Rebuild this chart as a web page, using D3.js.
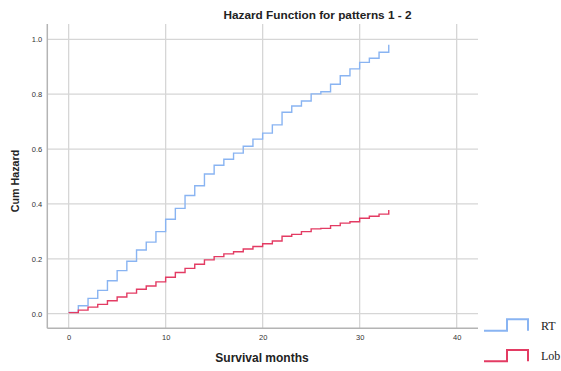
<!DOCTYPE html>
<html>
<head>
<meta charset="utf-8">
<script src="https://cdn.jsdelivr.net/npm/d3@7"></script>
<style>
  body { margin: 0; background: #fff; }
  svg { display: block; }
</style>
</head>
<body>
<div id="chart"></div>
<script>
// Data: cumulative hazard after each month
const months = d3.range(0, 34);
const rtHazard = [0.005, 0.029, 0.056, 0.085, 0.120, 0.157, 0.191, 0.232, 0.261, 0.299,
  0.344, 0.384, 0.431, 0.466, 0.509, 0.541, 0.563, 0.585, 0.610, 0.636,
  0.658, 0.688, 0.734, 0.757, 0.775, 0.801, 0.809, 0.836, 0.867, 0.892,
  0.916, 0.931, 0.953, 0.980];
const lobHazard = [0.004, 0.013, 0.024, 0.034, 0.047, 0.061, 0.075, 0.089, 0.101, 0.116,
  0.133, 0.150, 0.165, 0.180, 0.196, 0.208, 0.218, 0.226, 0.236, 0.245,
  0.255, 0.265, 0.282, 0.289, 0.299, 0.309, 0.311, 0.321, 0.330, 0.335,
  0.348, 0.355, 0.363, 0.378];
const xTicks = [0, 10, 20, 30, 40];
const yTicks = [0, 0.2, 0.4, 0.6, 0.8, 1.0];
const seriesNames = ["RT", "Lob"];
const seriesColors = ["#89b4f2", "#e33b63"];

const fullWidth = 561, fullHeight = 371;
const plot = { left: 47.3, right: 478, top: 24, bottom: 328.3 };

const svg = d3.select("#chart").append("svg")
  .attr("width", fullWidth)
  .attr("height", fullHeight);

const x = d3.scaleLinear().domain([-2.2, 42.2]).range([plot.left, plot.right]);
const y = d3.scaleLinear().domain([-0.0532, 1.0557]).range([plot.bottom, plot.top]);

// Grid
svg.append("g").selectAll("line")
  .data(xTicks).enter().append("line")
  .attr("x1", d => x(d)).attr("x2", d => x(d))
  .attr("y1", plot.top).attr("y2", plot.bottom)
  .attr("stroke", "#d6d6d6").attr("stroke-width", 1.3);

svg.append("g").selectAll("line")
  .data(yTicks).enter().append("line")
  .attr("x1", plot.left).attr("x2", plot.right)
  .attr("y1", d => y(d)).attr("y2", d => y(d))
  .attr("stroke", "#d6d6d6").attr("stroke-width", 1.3);

// Axes (no tick marks)
const xAxis = svg.append("g")
  .attr("transform", `translate(0,${plot.bottom})`)
  .call(d3.axisBottom(x).tickValues(xTicks).tickSize(0).tickPadding(6).tickFormat(d3.format("d")));
const yAxis = svg.append("g")
  .attr("transform", `translate(${plot.left},0)`)
  .call(d3.axisLeft(y).tickValues(yTicks).tickSize(0).tickPadding(5).tickFormat(d3.format(".1f")));

[xAxis, yAxis].forEach(a => {
  a.select(".domain").attr("stroke", "#b4b4b4").attr("stroke-width", 1.5);
  a.selectAll("text")
    .style("font-family", "'Liberation Sans', Arial, sans-serif")
    .style("font-size", "7.5px")
    .attr("fill", "#333");
});
yAxis.select(".domain").attr("d", `M0,${plot.top}V${plot.bottom}`);
xAxis.select(".domain").attr("d", `M${plot.left},0H${plot.right}`);

// Step lines
const line = d3.line()
  .x((d, i) => x(months[i]))
  .y(d => y(d))
  .curve(d3.curveStepAfter);

[rtHazard, lobHazard].forEach((vals, k) => {
  svg.append("path")
    .datum(vals)
    .attr("d", line)
    .attr("fill", "none")
    .attr("stroke", seriesColors[k])
    .attr("stroke-width", 1.4);
});

// Title
svg.append("text")
  .attr("x", 317.5).attr("y", 19)
  .attr("text-anchor", "middle")
  .style("font-family", "'Liberation Sans', Arial, sans-serif")
  .style("font-weight", "bold")
  .style("font-size", "11.8px")
  .attr("fill", "#222")
  .text("Hazard Function for patterns 1 - 2");

// Axis labels
svg.append("text")
  .attr("x", 262).attr("y", 362)
  .attr("text-anchor", "middle")
  .style("font-family", "'Liberation Sans', Arial, sans-serif")
  .style("font-weight", "bold")
  .style("font-size", "12px")
  .attr("fill", "#222")
  .text("Survival months");

svg.append("text")
  .attr("transform", "translate(18.5,181) rotate(-90)")
  .attr("text-anchor", "middle")
  .style("font-family", "'Liberation Sans', Arial, sans-serif")
  .style("font-weight", "bold")
  .style("font-size", "10.7px")
  .attr("fill", "#222")
  .text("Cum Hazard");

// Legend
const legend = svg.append("g");
seriesNames.forEach((name, k) => {
  const base = 330.7 + k * 30.6;
  legend.append("path")
    .attr("d", `M484,${base}H507V${base - 11.4}H528V${base}`)
    .attr("fill", "none")
    .attr("stroke", seriesColors[k])
    .attr("stroke-width", 2);
  legend.append("text")
    .attr("x", 541).attr("y", base - 1)
    .style("font-family", "'Liberation Serif', 'DejaVu Serif', serif")
    .style("font-size", "12px")
    .attr("fill", "#222")
    .text(name);
});
</script>
</body>
</html>
